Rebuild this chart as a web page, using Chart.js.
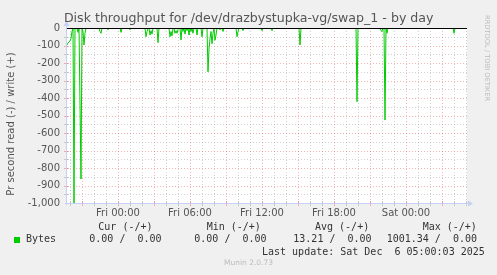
<!DOCTYPE html>
<html><head><meta charset="utf-8">
<script src="https://cdn.jsdelivr.net/npm/chart.js@4/dist/chart.umd.min.js"></script>
<style>html,body{margin:0;padding:0;background:#F0F0F0;overflow:hidden}#wrap{width:497px;height:275px;position:relative}</style>
</head><body><div id="wrap"><canvas id="c" width="497" height="275"></canvas></div>
<script>
const titleText = 'Disk throughput for /dev/drazbystupka-vg/swap_1 - by day';
const yAxisTitle = 'Pr second read (-) / write (+)';
const watermark = 'RRDTOOL / TOBI OETIKER';
const footer = 'Munin 2.0.73';
// x positions: 5-minute slots counted from the left edge of the graph (slot 0 = Thu 19:45)
const slots = [0,1,3,4,5,6,7,8,9,10,11,12,14,15,16,17,18,19,
  32,33,34,35,40,41,42,53,54,55,62,63,64,
  78,79,80,81,82,83,84,85,86,90,91,92,
  102,103,104,105,106,107,108,109,110,111,112,113,114,115,116,117,118,119,120,121,122,123,124,125,126,127,
  129,130,131,134,135,136,140,141,142,143,144,145,146,147,148,149,150,
  152,153,154,155,156,157,169,170,171,172,175,176,177,194,195,196,204,205,206,
  232,233,234,289,290,291,313,314,315,316,317,318,319,320,321,386,387,388,400];
// read bytes per second (plotted negative)
const readValues = [-97,-85,-75,-60,-20,-5,-1001,0,-5,0,-25,0,-863,0,-20,-97,-30,0,
  0,-20,-30,0,0,-10,0,0,-25,0,0,-10,0,
  0,-50,-20,-5,0,-40,-15,-35,0,0,-84,0,
  0,-50,-20,-45,0,0,-30,-15,-30,-10,0,0,-69,0,-20,0,-35,0,-15,0,-40,0,-20,0,-30,0,
  0,-40,0,0,-50,0,0,-250,-120,-60,-20,-90,-30,0,-70,-40,0,
  0,-10,0,0,-20,0,0,-50,-20,0,0,-15,0,0,-15,0,0,-15,0,
  0,-97,0,0,-421,0,0,-15,-20,0,0,-526,0,-30,0,0,-30,0,0];
const tickSlots = [51,123,195,267,339];
const tickLabels = ['Fri 00:00','Fri 06:00','Fri 12:00','Fri 18:00','Sat 00:00'];
const yTicks = [0,-100,-200,-300,-400,-500,-600,-700,-800,-900,-1000];
const seriesName = 'Bytes';
const legendHeaders = ['Cur (-/+)','Min (-/+)','Avg (-/+)','Max (-/+)'];
const legendValues = ['0.00 /  0.00','0.00 /  0.00','13.21 /  0.00','1001.34 /  0.00'];
const lastUpdate = 'Last update: Sat Dec  6 05:00:03 2025';

const GREEN = '#00CC00';
const AXIS = '#C4D0F4';
const MINOR = 'rgba(140,140,140,0.40)';
const MAJOR = 'rgba(225,60,60,0.38)';

const munin = {
  id: 'munin',
  beforeDraw(chart) {
    const {ctx, chartArea: a, scales: {x, y}} = chart;
    ctx.save();
    ctx.fillStyle = '#F0F0F0';
    ctx.fillRect(0, 0, chart.width, chart.height);
    ctx.fillStyle = '#FFFFFF';
    ctx.fillRect(a.left, a.top, a.right - a.left, a.bottom - a.top);
    ctx.lineWidth = 1;
    ctx.setLineDash([1, 2]);
    for (let v = -50; v > -1000; v -= 50) {
      const py = Math.round(y.getPixelForValue(v)) + 0.5;
      ctx.strokeStyle = (v % 100 === 0) ? MAJOR : MINOR;
      ctx.beginPath(); ctx.moveTo(a.left, py); ctx.lineTo(a.right, py); ctx.stroke();
    }
    for (let s = tickSlots[0] % 12; s < 400; s += 12) {
      const px = Math.round(x.getPixelForValue(s)) + 0.5;
      const major = ((s - tickSlots[0]) / 12) % 3 === 0;
      ctx.strokeStyle = major ? MAJOR : MINOR;
      ctx.beginPath(); ctx.moveTo(px, a.top); ctx.lineTo(px, a.bottom); ctx.stroke();
      ctx.setLineDash([]);
      ctx.beginPath(); ctx.moveTo(px, a.bottom - 2); ctx.lineTo(px, a.bottom + 3); ctx.stroke();
      ctx.setLineDash([1, 2]);
    }
    ctx.setLineDash([]);
    for (let v = -50; v > -1000; v -= 50) {
      const py = Math.round(y.getPixelForValue(v)) + 0.5;
      ctx.strokeStyle = (v % 100 === 0) ? MAJOR : MINOR;
      ctx.beginPath(); ctx.moveTo(a.left - 3, py); ctx.lineTo(a.left + 2, py); ctx.stroke();
    }
    ctx.restore();
  },
  afterDatasetsDraw(chart) {
    const {ctx, chartArea: a, scales: {x, y}} = chart;
    ctx.save();
    ctx.strokeStyle = AXIS; ctx.fillStyle = AXIS; ctx.lineWidth = 1;
    const bx = Math.round(y.getPixelForValue(-1000)) + 0.5;
    ctx.beginPath(); ctx.moveTo(a.left - 2, bx); ctx.lineTo(a.right + 2, bx); ctx.stroke();
    ctx.beginPath(); ctx.moveTo(a.right + 1, bx - 3); ctx.lineTo(a.right + 6, bx); ctx.lineTo(a.right + 1, bx + 3); ctx.closePath(); ctx.fill();
    const lx = Math.round(a.left) - 0.5;
    ctx.beginPath(); ctx.moveTo(lx, a.bottom + 2); ctx.lineTo(lx, a.top - 3); ctx.stroke();
    ctx.beginPath(); ctx.moveTo(lx - 3, a.top - 2); ctx.lineTo(lx, a.top - 7); ctx.lineTo(lx + 3, a.top - 2); ctx.closePath(); ctx.fill();
    const zy = Math.round(y.getPixelForValue(0)) + 0.5;
    ctx.strokeStyle = '#000000';
    ctx.beginPath(); ctx.moveTo(a.left, zy); ctx.lineTo(a.right, zy); ctx.stroke();
    ctx.restore();
  },
  afterDraw(chart) {
    const {ctx} = chart;
    ctx.save();
    ctx.textBaseline = 'middle';
    ctx.fillStyle = '#555555';
    ctx.font = '12.6px "DejaVu Sans"';
    ctx.textAlign = 'center';
    ctx.fillText(titleText, 248.7, 19);
    ctx.font = '10px "DejaVu Sans"';
    ctx.save(); ctx.translate(11, 124); ctx.rotate(-Math.PI / 2);
    ctx.fillText(yAxisTitle, 0, 0); ctx.restore();
    ctx.fillStyle = '#BBBBBB';
    ctx.font = '6.7px "DejaVu Sans"';
    ctx.save(); ctx.translate(487, 15); ctx.rotate(Math.PI / 2);
    ctx.textAlign = 'left'; ctx.fillText(watermark, 0, 0); ctx.restore();
    ctx.font = '7.5px "DejaVu Sans"';
    ctx.textAlign = 'center';
    ctx.fillText(footer, 248.5, 263.5);
    ctx.fillStyle = '#333333';
    ctx.font = '10px "DejaVu Sans Mono"';
    ctx.textAlign = 'left';
    const hx = [98.3, 206.7, 315, 422.7];
    const vx = [89.3, 194.3, 293.3, 386.7];
    legendHeaders.forEach((t, i) => ctx.fillText(t, hx[i], 227));
    ctx.fillText(seriesName, 26, 239.5);
    legendValues.forEach((t, i) => ctx.fillText(t, vx[i], 239.5));
    ctx.fillText(lastUpdate, 262, 252);
    ctx.fillStyle = GREEN;
    ctx.fillRect(14, 237, 6, 6);
    ctx.restore();
  }
};

new Chart(document.getElementById('c'), {
  type: 'line',
  data: {
    datasets: [{
      label: seriesName,
      data: slots.map((s, i) => ({x: s, y: readValues[i]})),
      borderColor: GREEN,
      borderWidth: 1,
      pointRadius: 0,
      tension: 0,
      fill: false
    }]
  },
  options: {
    responsive: false,
    animation: false,
    events: [],
    layout: {padding: {left: 0, top: 28, right: 30, bottom: 0}},
    plugins: {legend: {display: false}, tooltip: {enabled: false}, title: {display: false}},
    scales: {
      x: {
        type: 'linear', min: 0, max: 400,
        afterBuildTicks: s => { s.ticks = tickSlots.map(v => ({value: v})); },
        afterFit: s => { s.height = 72; },
        ticks: {
          callback: (v) => tickLabels[tickSlots.indexOf(v)],
          font: {family: 'DejaVu Sans', size: 10},
          color: '#555555', maxRotation: 0, autoSkip: false, padding: 4
        },
        grid: {display: false, drawTicks: false},
        border: {display: false}
      },
      y: {
        type: 'linear', min: -1000, max: 0,
        afterBuildTicks: s => { s.ticks = yTicks.map(v => ({value: v})); },
        afterFit: s => { s.width = 67; },
        ticks: {
          font: {family: 'DejaVu Sans', size: 10},
          color: '#555555', padding: 7, autoSkip: false
        },
        grid: {display: false, drawTicks: false},
        border: {display: false}
      }
    }
  },
  plugins: [munin]
});
</script></body></html>
